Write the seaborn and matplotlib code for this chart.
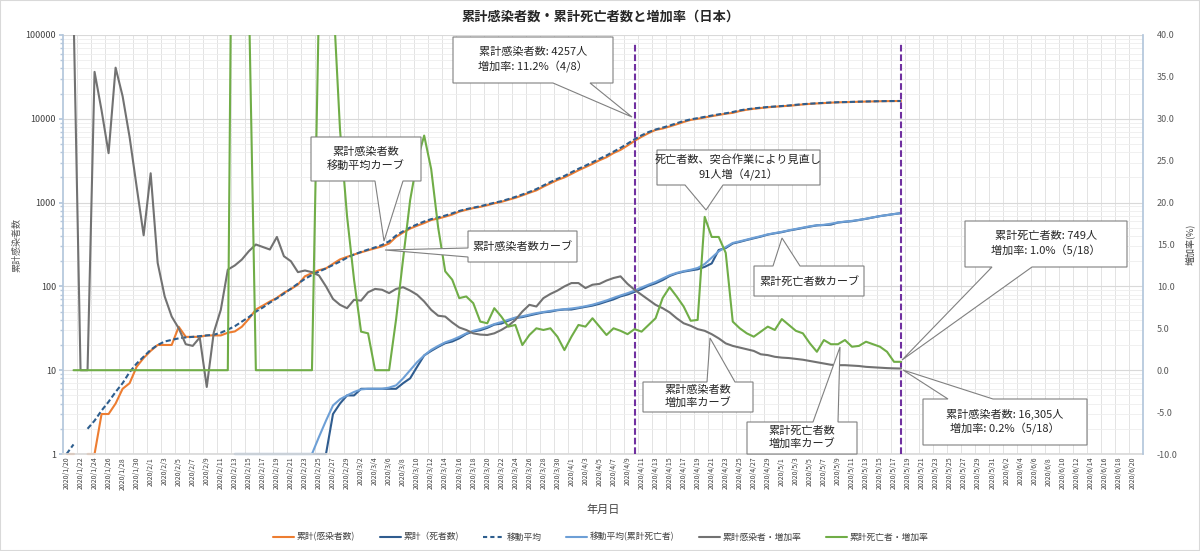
import numpy as np
import pandas as pd
import matplotlib
matplotlib.use('Agg')
import matplotlib.pyplot as plt
from matplotlib.lines import Line2D
from matplotlib.patches import Polygon, Rectangle
from matplotlib.ticker import FixedLocator, FuncFormatter, LogLocator, NullFormatter
import seaborn as sns

nan = np.nan

# 日付（カテゴリ軸）
dates = pd.date_range('2020-01-20', '2020-06-21')
date_labels = [f'{d.year}/{d.month}/{d.day}' for d in dates]

# 累計感染者数
infected = [1, 1, nan, 1, 1, 3, 3, 4, 6, 7,
            11, 14, 17, 20, 20, 20, 33, 25, 25, 25,
            26, 26, 26, 28, 29, 33, 41, 53, 59, 66,
            73, 84, 93, 105, 132, 144, 156, 164, 186, 210,
            225, 240, 255, 270, 285, 300, 325, 390, 440, 490,
            530, 570, 620, 645, 680, 720, 780, 820, 860, 890,
            930, 980, 1020, 1080, 1140, 1220, 1310, 1400, 1550, 1700,
            1860, 2000, 2200, 2430, 2650, 2900, 3200, 3480, 3900, 4257,
            4800, 5450, 6100, 6750, 7370, 7650, 8100, 8600, 9170, 9700,
            10000, 10360, 10750, 11120, 11500, 11770, 12380, 12830, 13180, 13440,
            13730, 13930, 14120, 14300, 14550, 14850, 15060, 15250, 15400, 15580,
            15720, 15800, 15870, 15970, 16060, 16120, 16200, 16250, 16285, 16305]

# 移動平均（感染者）
infected_ma = [1.0, 1.3, nan, 2.0, 2.5, 3.3, 4.2, 5.5, 7.0, 9.5,
               12, 14.5, 17.5, 20, 22, 23, 24, 24.6, 25, 25.5,
               26, 26.5, 28, 30.5, 33.5, 38, 43, 50, 56, 64,
               72, 82, 94, 108, 123, 137, 150, 164, 180, 198,
               220, 240, 258, 275, 292, 312, 345, 405, 455, 505,
               550, 595, 635, 665, 700, 745, 795, 835, 870, 905,
               950, 995, 1040, 1100, 1170, 1250, 1340, 1450, 1600, 1760,
               1920, 2080, 2300, 2530, 2760, 3030, 3330, 3650, 4050, 4500,
               5050, 5700, 6350, 6950, 7450, 7850, 8300, 8850, 9400, 9850,
               10180, 10550, 10930, 11300, 11630, 12050, 12600, 13000, 13300, 13580,
               13830, 14020, 14200, 14420, 14700, 14950, 15150, 15320, 15490, 15650,
               15760, 15830, 15920, 16010, 16090, 16160, 16225, 16270, 16295, 16310]

# 累計死者数
deaths = [nan] * 24 + [1] * 14 + [
    3, 4, 5, 5, 6, 6, 6, 6, 6, 6,
    7, 8, 11, 15, 17, 19, 21, 22, 24, 27,
    29, 30, 32, 35, 36, 39, 42, 43, 45, 47,
    49, 50, 52, 53, 53, 55, 57, 59, 62, 66,
    70, 76, 80, 86, 93, 102, 109, 119, 133, 143,
    150, 155, 160, 171, 188, 272, 287, 325, 340, 358,
    375, 393, 415, 430, 444, 464, 480, 498, 517, 535,
    540, 546, 578, 590, 600, 620, 640, 665, 690, 710,
    730, 749]

# 移動平均（累計死亡者）
deaths_ma = [nan] * 24 + [1] * 12 + [
    1.6, 2.5, 3.8, 4.5, 5.0, 5.5, 5.9, 6.0, 6.0, 6.0, 6.2, 6.6,
    8, 10, 12.5, 15, 17.5, 19.5, 21.5, 23, 25, 27.5,
    29.5, 31, 33, 35.5, 37.5, 40, 42.5, 44, 46, 48,
    49.5, 51, 52.5, 53.5, 54.5, 56, 58, 60.5, 64, 68,
    73, 78, 83, 89, 97, 105, 113, 124, 136, 145,
    152, 158, 166, 185, 220, 262, 295, 330, 345, 362,
    380, 398, 418, 433, 448, 467, 485, 503, 522, 536,
    543, 560, 580, 593, 605, 622, 642, 667, 690, 710,
    730, 749]

# 累計感染者・増加率(%)
infected_rate = [nan, 43, 0, 0, 35.6, 31, 25.9, 36.1, 32.7, 27.8,
                 21.9, 16.1, 23.5, 12.8, 8.8, 6.4, 5.0, 3.1, 2.9, 3.9,
                 -2.0, 4.5, 7.2, 12.0, 12.5, 13.2, 14.2, 15.0, 14.7, 14.4,
                 15.9, 13.6, 13.0, 11.7, 11.9, 11.7, 11.3, 10.0, 8.5, 7.8,
                 7.4, 8.4, 8.3, 9.3, 9.7, 9.6, 9.2, 9.7, 9.9, 9.5,
                 9.0, 8.2, 7.2, 6.5, 6.4, 5.7, 5.1, 4.8, 4.4, 4.25,
                 4.2, 4.4, 4.8, 5.3, 6.0, 7.0, 7.8, 7.6, 8.6, 9.1,
                 9.5, 10.0, 10.4, 10.4, 9.8, 10.2, 10.3, 10.7, 11.0, 11.2,
                 10.3, 9.6, 9.0, 8.4, 7.8, 7.4, 6.9, 6.2, 5.6, 5.3,
                 4.9, 4.7, 4.3, 3.8, 3.2, 2.9, 2.7, 2.5, 2.3, 1.9,
                 1.8, 1.6, 1.5, 1.45, 1.35, 1.25, 1.1, 0.95, 0.8, 0.65,
                 0.6, 0.6, 0.55, 0.5, 0.4, 0.35, 0.3, 0.25, 0.22, 0.2]

# 累計死亡者・増加率(%)
deaths_rate = [nan] + [0] * 23 + [100, 100, 45] + [0] * 9 + [
    44, 60, 45, 28.7, 18.4, 10.8, 4.6, 4.4, 0, 0,
    0, 6.1, 13.3, 20.3, 25.0, 28.0, 24.0, 17.0, 11.8, 10.8,
    8.6, 8.8, 8.0, 5.8, 5.6, 7.4, 6.4, 5.2, 5.4, 3.0,
    4.2, 5.0, 4.8, 5.0, 4.0, 2.4, 4.0, 5.4, 5.2, 6.2,
    5.2, 4.2, 5.0, 4.7, 4.3, 4.9, 4.6, 5.4, 6.2, 8.6,
    9.9, 8.8, 7.6, 5.9, 6.0, 18.3, 15.9, 15.9, 14.0, 5.8,
    5.0, 4.4, 4.0, 4.6, 5.2, 4.8, 6.1, 5.4, 4.7, 4.4,
    3.2, 2.2, 3.6, 3.1, 3.1, 3.6, 2.8, 2.9, 3.4, 3.1,
    2.8, 2.2, 1.0, 1.0]

marker_days = ['2020/4/10', '2020/5/18']

C_ORANGE = '#ED7D31'
C_DARK = '#2F5C8F'
C_DASH = '#2E5E8E'
C_LIGHT = '#6D9FD6'
C_GRAY = '#727272'
C_GREEN = '#70AD47'
C_PURPLE = '#7030A0'

sns.set_theme(style='white')
plt.rcParams['font.family'] = ['Noto Sans CJK JP', 'DejaVu Sans']
plt.rcParams['axes.unicode_minus'] = False

W, H = 1200, 551
fig = plt.figure(figsize=(W / 100, H / 100), dpi=100)
ax = fig.add_axes([63 / W, 1 - 454 / H, 1080 / W, 419 / H])
ax2 = ax.twinx()


def draw(axis, values, color, clip=True, **kw):
    df = pd.DataFrame({'day': np.arange(len(values)), 'v': values})
    df['seg'] = df['v'].isna().cumsum()
    sns.lineplot(data=df, x='day', y='v', units='seg', estimator=None,
                 color=color, ax=axis, legend=False, clip_on=clip, **kw)


# 左軸の系列は範囲内なので、軸端(1)の線も見えるようにクリップしない
draw(ax, infected, C_ORANGE, clip=False, lw=1.5)
draw(ax, deaths, C_DARK, clip=False, lw=1.5)
draw(ax, infected_ma, C_DASH, clip=False, lw=1.5, dashes=(2.5, 1.3))
draw(ax, deaths_ma, C_LIGHT, clip=False, lw=1.5)
draw(ax2, infected_rate, C_GRAY, lw=1.5)
draw(ax2, deaths_rate, C_GREEN, lw=1.5)

for d in marker_days:
    ax.axvline(date_labels.index(d), ymin=0, ymax=0.983, color=C_PURPLE,
               lw=1.5, dashes=(3.2, 1.4), zorder=5)

# 左軸（対数）
ax.set_yscale('log')
ax.set_ylim(1, 100000)
ax.set_xlim(-0.5, len(date_labels) - 0.5)
ax.yaxis.set_major_locator(FixedLocator([1, 10, 100, 1000, 10000, 100000]))
ax.yaxis.set_major_formatter(FuncFormatter(lambda v, p: f'{int(v)}'))
ax.yaxis.set_minor_locator(LogLocator(base=10, subs=np.arange(2, 10)))
ax.yaxis.set_minor_formatter(NullFormatter())
ax.set_xticks(range(0, len(date_labels), 2))
ax.set_xticklabels(date_labels[::2], rotation=90, fontsize=5, color='#404040')
ax.xaxis.set_minor_locator(FixedLocator(np.arange(1.5, len(date_labels), 2)))
ax.tick_params(axis='x', which='both', length=0, pad=2)
ax.tick_params(axis='y', which='major', labelsize=6.5, labelcolor='#404040',
               length=3, color='#B4C7DC', pad=2)
ax.tick_params(axis='y', which='minor', length=2, color='#B4C7DC')
ax.grid(which='major', axis='y', color='#D9D9D9', lw=0.8)
ax.grid(which='minor', axis='y', color='#EEEEEE', lw=0.6)
ax.grid(which='minor', axis='x', color='#E3E3E3', lw=0.7)
ax.set_xlabel('')
ax.set_ylabel('累計感染者数', fontsize=6.5, color='#595959')
ax.yaxis.set_label_coords(-0.038, 0.5)

# 右軸（増加率）
ax2.set_ylim(-10, 40)
ax2.set_yticks(np.arange(-10, 41, 5))
ax2.yaxis.set_major_formatter(FuncFormatter(lambda v, p: f'{v:.1f}'))
ax2.tick_params(axis='y', labelsize=6.5, labelcolor='#595959', length=0, pad=10)
ax2.set_ylabel('増加率(%)', fontsize=6.5, color='#404040', rotation=90)
ax2.yaxis.set_label_coords(1.039, 0.5)
ax2.grid(False)

for s in ['top', 'bottom', 'left', 'right']:
    ax.spines[s].set_visible(False)
    ax2.spines[s].set_visible(False)
ax.spines['left'].set_visible(True)
ax.spines['left'].set_color('#B4C7DC')
ax.spines['bottom'].set_visible(True)
ax.spines['bottom'].set_color('#D9D9D9')
ax2.spines['right'].set_visible(True)
ax2.spines['right'].set_color('#B4C7DC')


def px(x, y):
    return (x / W, 1 - y / H)


def callout(text, box, side, a, b, tip):
    x0, y0, x1, y1 = box
    if side == 'top':
        pts = [(x0, y0), (a, y0), tip, (b, y0), (x1, y0), (x1, y1), (x0, y1)]
    elif side == 'bottom':
        pts = [(x0, y0), (x1, y0), (x1, y1), (b, y1), tip, (a, y1), (x0, y1)]
    else:
        pts = [(x0, y0), (x1, y0), (x1, y1), (x0, y1), (x0, b), tip, (x0, a)]
    fig.add_artist(Polygon([px(*p) for p in pts], closed=True,
                           transform=fig.transFigure, fc='white',
                           ec='#808080', lw=0.8, zorder=10))
    fig.text(*px((x0 + x1) / 2, (y0 + y1) / 2), text, ha='center', va='center',
             fontsize=8, color='#262626', linespacing=1.35, zorder=11)


callout('累計感染者数: 4257人\n増加率: 11.2%（4/8）', (453, 37, 613, 83), 'bottom', 553, 590, (632, 117))
callout('累計感染者数\n移動平均カーブ', (311, 137, 421, 181), 'bottom', 375, 403, (384, 241))
callout('累計感染者数カーブ', (468, 231, 577, 262), 'left', 248, 257, (385, 250))
callout('死亡者数、突合作業により見直し\n91人増（4/21）', (657, 150, 820, 185), 'bottom', 685, 723, (706, 210))
callout('累計死亡者数カーブ', (754, 266, 864, 296), 'top', 773, 800, (782, 238))
callout('累計死亡者数: 749人\n増加率: 1.0%（5/18）', (965, 221, 1127, 267), 'bottom', 992, 1032, (902, 360))
callout('累計感染者数: 16,305人\n増加率: 0.2%（5/18）', (923, 399, 1087, 445), 'top', 948, 993, (903, 370))
callout('累計感染者数\n増加率カーブ', (643, 382, 753, 412), 'top', 707, 735, (710, 338))
callout('累計死亡者数\n増加率カーブ', (747, 422, 857, 454), 'top', 813, 838, (840, 347))

fig.text(*px(601, 17), '累計感染者数・累計死亡者数と増加率（日本）', ha='center', va='center',
         fontsize=9.5, fontweight='bold', color='#262626')
fig.text(*px(603, 510), '年月日', ha='center', va='center', fontsize=8, color='#404040')

handles = [Line2D([], [], color=C_ORANGE, lw=1.5),
           Line2D([], [], color=C_DARK, lw=1.5),
           Line2D([], [], color=C_DASH, lw=1.5, dashes=(2, 1.5)),
           Line2D([], [], color=C_LIGHT, lw=1.5),
           Line2D([], [], color=C_GRAY, lw=1.5),
           Line2D([], [], color=C_GREEN, lw=1.5)]
labels = ['累計(感染者数)', '累計（死者数)', '移動平均', '移動平均(累計死亡者)',
          '累計感染者・増加率', '累計死亡者・増加率']
fig.legend(handles, labels, loc='center', bbox_to_anchor=(601 / W, 1 - 537 / H), ncol=6,
           frameon=False, fontsize=6.3, handlelength=2.4, columnspacing=2.8,
           handletextpad=0.3, labelcolor='#404040')

fig.add_artist(Rectangle((0, 0), 1, 1, transform=fig.transFigure, fill=False,
                         ec='#D9D9D9', lw=1.5))

fig.savefig('out.png', dpi=100)
